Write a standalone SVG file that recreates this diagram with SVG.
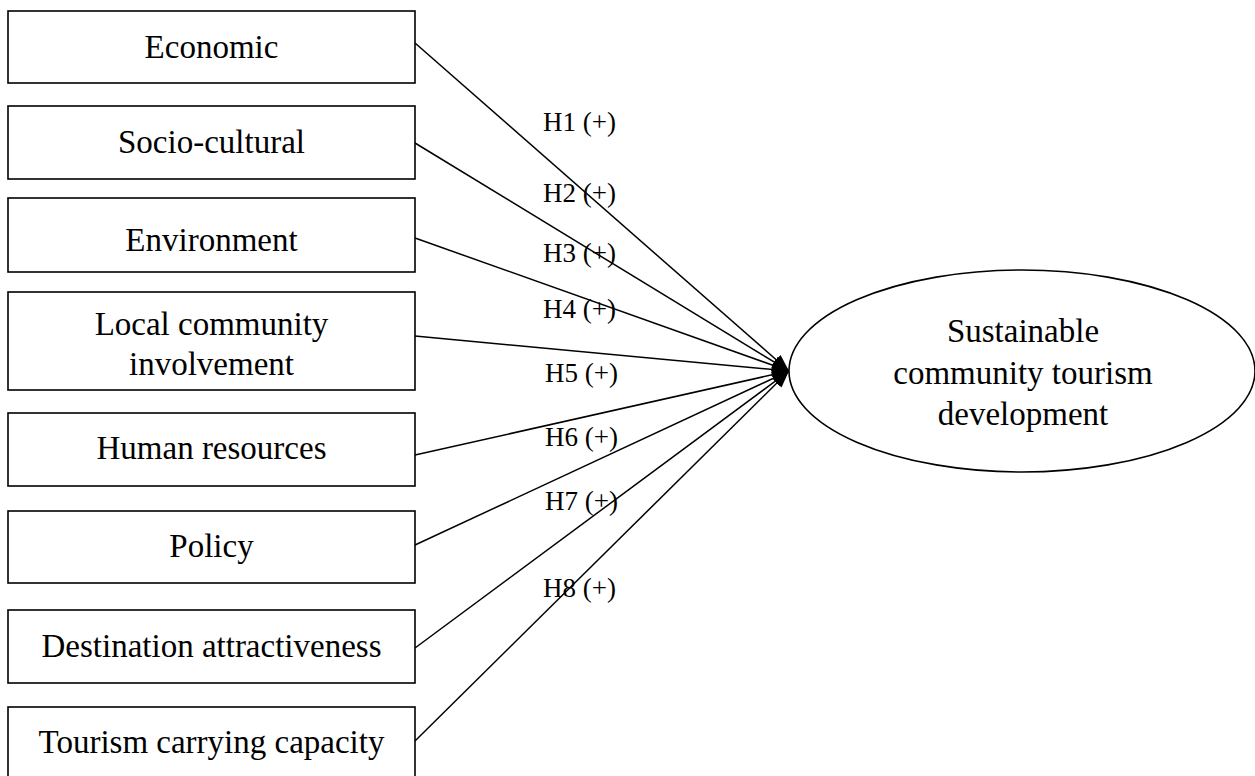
<svg xmlns="http://www.w3.org/2000/svg" width="1255" height="776" viewBox="0 0 1255 776">
<style>
  .box { fill: #ffffff; stroke: #000000; stroke-width: 1.6; }
  .ell { fill: #ffffff; stroke: #000000; stroke-width: 1.6; }
  .lbl { font-family: "Liberation Serif", "Times New Roman", serif; font-size: 33px; fill: #000000; text-anchor: middle; }
  .h { font-family: "Liberation Serif", "Times New Roman", serif; font-size: 27px; fill: #000000; }
  .conn line { stroke: #000000; stroke-width: 1.5; marker-end: url(#arrow); }
</style>
<defs>
  <marker id="arrow" markerUnits="userSpaceOnUse" markerWidth="20" markerHeight="14" refX="17" refY="7" orient="auto">
    <path d="M0,0.5 L17,7 L0,13.5 z" fill="#000000"/>
  </marker>
</defs>
<rect width="1255" height="776" fill="#ffffff"/>

<g id="connectors" class="conn">
  <line x1="415" y1="43" x2="789" y2="371"/>
  <line x1="415" y1="143" x2="789" y2="371"/>
  <line x1="415" y1="238" x2="789" y2="371"/>
  <line x1="415" y1="336" x2="789" y2="371"/>
  <line x1="415" y1="455" x2="789" y2="371"/>
  <line x1="415" y1="545" x2="789" y2="371"/>
  <line x1="415" y1="648" x2="789" y2="371"/>
  <line x1="415" y1="741" x2="789" y2="371"/>
</g>

<g id="node-economic">
  <rect class="box" x="8" y="11" width="407" height="72"/>
  <text class="lbl" x="211.5" y="58">Economic</text>
</g>
<g id="node-sociocultural">
  <rect class="box" x="8" y="106" width="407" height="73"/>
  <text class="lbl" x="211.5" y="153">Socio-cultural</text>
</g>
<g id="node-environment">
  <rect class="box" x="8" y="198" width="407" height="74"/>
  <text class="lbl" x="211.5" y="251">Environment</text>
</g>
<g id="node-local">
  <rect class="box" x="8" y="292" width="407" height="98"/>
  <text class="lbl" x="211.5" y="335">Local community</text>
  <text class="lbl" x="211.5" y="375">involvement</text>
</g>
<g id="node-human">
  <rect class="box" x="8" y="413" width="407" height="73"/>
  <text class="lbl" x="211.5" y="459">Human resources</text>
</g>
<g id="node-policy">
  <rect class="box" x="8" y="511" width="407" height="72"/>
  <text class="lbl" x="211.5" y="557">Policy</text>
</g>
<g id="node-destination">
  <rect class="box" x="8" y="610" width="407" height="73"/>
  <text class="lbl" x="211.5" y="657">Destination attractiveness</text>
</g>
<g id="node-carrying">
  <rect class="box" x="8" y="707" width="407" height="75"/>
  <text class="lbl" x="211.5" y="753">Tourism carrying capacity</text>
</g>

<g id="node-sctd">
  <ellipse class="ell" cx="1022" cy="371" rx="233" ry="101"/>
  <text class="lbl" x="1023" y="342">Sustainable</text>
  <text class="lbl" x="1023" y="384">community tourism</text>
  <text class="lbl" x="1023" y="425">development</text>
</g>

<g id="hypothesis-labels">
  <text class="h" x="543" y="131">H1 (+)</text>
  <text class="h" x="543" y="202">H2 (+)</text>
  <text class="h" x="543" y="262">H3 (+)</text>
  <text class="h" x="543" y="318">H4 (+)</text>
  <text class="h" x="545" y="382">H5 (+)</text>
  <text class="h" x="545" y="446">H6 (+)</text>
  <text class="h" x="545" y="510">H7 (+)</text>
  <text class="h" x="543" y="597">H8 (+)</text>
</g>
</svg>
